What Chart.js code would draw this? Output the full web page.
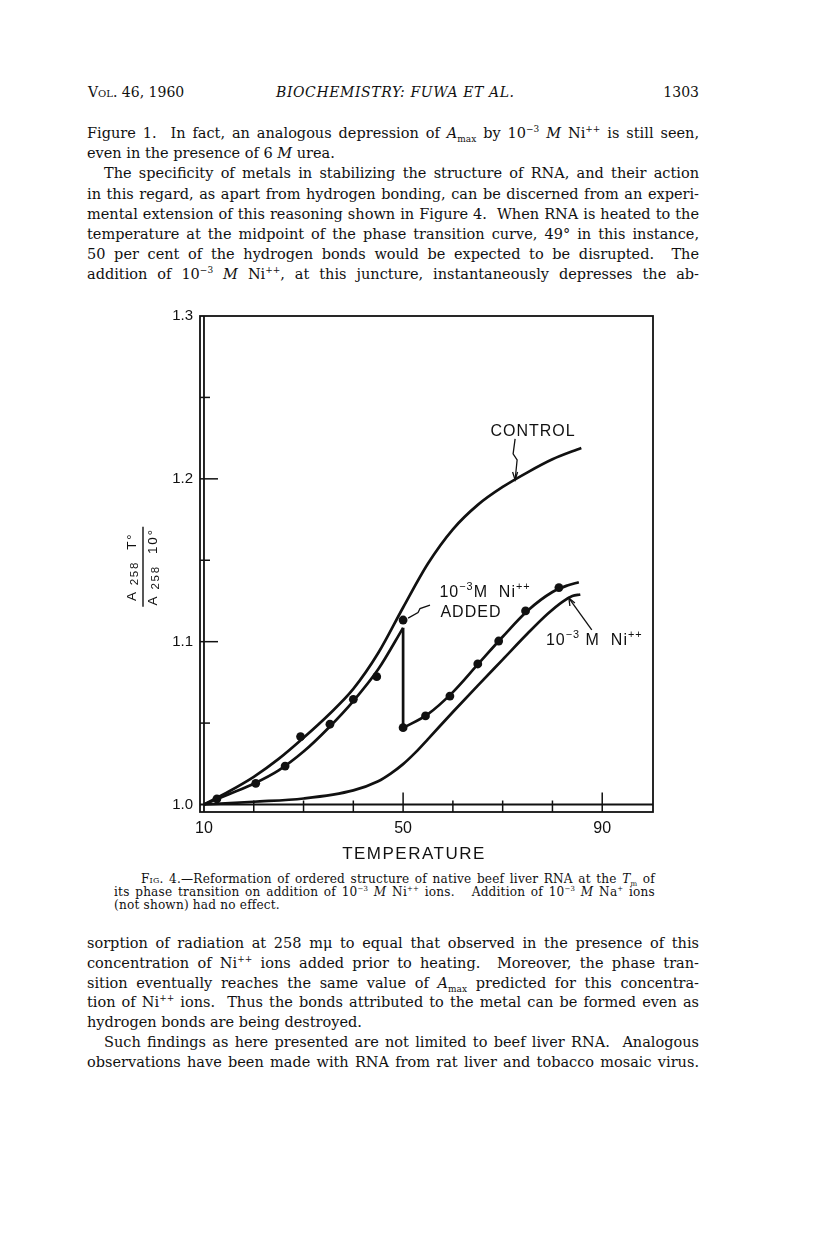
<!DOCTYPE html>
<html>
<head>
<meta charset="utf-8">
<title>Fig. 4 - Fuwa et al. 1960</title>
<script src="https://cdn.jsdelivr.net/npm/chart.js@4.4.1/dist/chart.umd.min.js"></script>
<style>
  body { margin: 0; background: #fff; }
  #page { position: relative; width: 816px; height: 1249px; overflow: hidden; color: #111;
          font-family: "DejaVu Serif", "Liberation Serif", serif; }
  .ln { position: absolute; left: 87px; width: 612px; font-size: 14.5px; line-height: 20px;
        white-space: nowrap; text-align: justify; text-align-last: justify; }
  .last { text-align-last: left; }
  .ind { padding-left: 17px; box-sizing: border-box; }
  .cap { font-size: 12.1px; line-height: 13px; left: 114px; width: 541px; letter-spacing: 0.2px; }
  .cap.ind { padding-left: 27px; }
  .cap sub, .cap sup { font-size: 0.58em; }
  sup, sub { font-size: 0.62em; line-height: 0; }
  .sc { font-variant: small-caps; }
  #hdr { position: absolute; top: 82px; left: 88px; width: 611px; font-size: 14px; line-height: 20px; }
  #hdr .mid { position: absolute; left: 188px; font-style: italic; letter-spacing: 0.6px; }
  #hdr .pg { position: absolute; right: 0; }
  #plot { position: absolute; left: 100px; top: 296px; width: 600px; height: 570px; }
  #xtitle { position: absolute; left: 300px; width: 228px; top: 844px; text-align: center;
            font: 17px "Liberation Sans", sans-serif; letter-spacing: 1.5px; color: #111; }
</style>
</head>
<body>
<div id="page">
  <div id="hdr"><span class="sc">Vol.</span> 46, 1960<span class="mid">BIOCHEMISTRY: FUWA ET AL.</span><span class="pg">1303</span></div>

  <div class="ln" style="top:123px">Figure 1. &nbsp;In fact, an analogous depression of <i>A</i><sub>max</sub> by 10<sup>−3</sup> <i>M</i> Ni<sup>++</sup> is still seen,</div>
  <div class="ln last" style="top:143.2px">even in the presence of 6 <i>M</i> urea.</div>
  <div class="ln ind" style="top:163.4px">The specificity of metals in stabilizing the structure of RNA, and their action</div>
  <div class="ln" style="top:183.6px">in this regard, as apart from hydrogen bonding, can be discerned from an experi-</div>
  <div class="ln" style="top:203.8px">mental extension of this reasoning shown in Figure 4. &nbsp;When RNA is heated to the</div>
  <div class="ln" style="top:224px">temperature at the midpoint of the phase transition curve, 49° in this instance,</div>
  <div class="ln" style="top:244.2px">50 per cent of the hydrogen bonds would be expected to be disrupted. &nbsp;The</div>
  <div class="ln" style="top:264.4px">addition of 10<sup>−3</sup> <i>M</i> Ni<sup>++</sup>, at this juncture, instantaneously depresses the ab-</div>

  <div id="plot"><canvas id="chart"></canvas></div>
  <div id="xtitle">TEMPERATURE</div>

  <div class="ln cap ind" style="top:872.5px">F<span class="sc">ig</span>. 4.—Reformation of ordered structure of native beef liver RNA at the <i>T</i><sub>m</sub> of</div>
  <div class="ln cap" style="top:885.5px">its phase transition on addition of 10<sup>−3</sup> <i>M</i> Ni<sup>++</sup> ions. &nbsp; Addition of 10<sup>−3</sup> <i>M</i> Na<sup>+</sup> ions</div>
  <div class="ln cap last" style="top:898.5px">(not shown) had no effect.</div>

  <div class="ln" style="top:933px">sorption of radiation at 258 mμ to equal that observed in the presence of this</div>
  <div class="ln" style="top:952.8px">concentration of Ni<sup>++</sup> ions added prior to heating. &nbsp;Moreover, the phase tran-</div>
  <div class="ln" style="top:972.6px">sition eventually reaches the same value of <i>A</i><sub>max</sub> predicted for this concentra-</div>
  <div class="ln" style="top:992.4px">tion of Ni<sup>++</sup> ions. &nbsp;Thus the bonds attributed to the metal can be formed even as</div>
  <div class="ln last" style="top:1012.2px">hydrogen bonds are being destroyed.</div>
  <div class="ln ind" style="top:1032px">Such findings as here presented are not limited to beef liver RNA. &nbsp;Analogous</div>
  <div class="ln" style="top:1051.8px">observations have been made with RNA from rat liver and tobacco mosaic virus.</div>
</div>

<script>
// A258 at T / A258 at 10°
const controlT = [10, 15, 20, 25, 30, 35, 40, 45, 50, 55, 60, 65, 70, 75, 80, 85.8];
const controlA = [1.0, 1.008, 1.017, 1.028, 1.041, 1.055, 1.071, 1.093, 1.121, 1.148, 1.169, 1.184, 1.195, 1.204, 1.212, 1.219];

// Ni++ added at 50°: curve up to the addition, then after it
const addedBeforeT = [10, 15, 20, 25, 30, 35, 40, 45, 50];
const addedBeforeA = [1.0, 1.0063, 1.0128, 1.021, 1.0325, 1.047, 1.0635, 1.083, 1.1085];
const addedAfterT = [50, 55, 60, 65, 70, 75, 80, 83, 85.3];
const addedAfterA = [1.047, 1.0555, 1.069, 1.086, 1.103, 1.119, 1.1305, 1.1345, 1.1365];

// Ni++ present before heating
const priorT = [10, 20, 30, 40, 45, 47.5, 50, 52.5, 55, 60, 65, 70, 75, 79, 82, 84, 85.6];
const priorA = [1.0, 1.0017, 1.0037, 1.0087, 1.0143, 1.019, 1.0248, 1.032, 1.0402, 1.0568, 1.073, 1.089, 1.105, 1.117, 1.1245, 1.128, 1.129];

// measured points
const pointT = [12.6, 20.4, 26.3, 29.4, 35.3, 40.0, 44.7, 50, 50, 54.5, 59.4, 65.0, 69.2, 74.6, 81.3];
const pointA = [1.0035, 1.013, 1.0236, 1.0417, 1.0493, 1.0646, 1.0785, 1.1133, 1.0472, 1.0544, 1.0666, 1.0863, 1.1004, 1.1189, 1.1332];

const xTicks = [10, 20, 30, 40, 50, 60, 70, 80, 90];
const xLabelled = [10, 50, 90];
const yTicks = [1.05, 1.1, 1.15, 1.2, 1.25];
const yLabelled = [1.0, 1.1, 1.2, 1.3];

const ink = '#111';
const sans = '"Liberation Sans", Arial, sans-serif';

function pts(xs, ys) {
  return xs.map((x, i) => ({ x: x, y: ys[i] }));
}

function curve(data, extra) {
  return Object.assign({
    data: data,
    showLine: true,
    borderColor: ink,
    borderWidth: 2.7,
    pointRadius: 0,
    cubicInterpolationMode: 'monotone',
    fill: false
  }, extra || {});
}

// text in runs: [text, 0 normal | 1 sup | -1 sub]
function drawRuns(ctx, runs, x, y, size, align, subScale) {
  const sc = subScale || 0.68;
  const widths = runs.map(r => {
    ctx.font = (r[1] ? size * sc : size) + 'px ' + sans;
    return ctx.measureText(r[0]).width;
  });
  const total = widths.reduce((s, w) => s + w, 0);
  let cx = align === 'center' ? x - total / 2 : x;
  runs.forEach((r, i) => {
    ctx.font = (r[1] ? size * sc : size) + 'px ' + sans;
    const dy = r[1] === 1 ? -size * 0.42 : r[1] === -1 ? size * 0.22 : 0;
    ctx.fillText(r[0], cx, y + dy);
    cx += widths[i];
  });
}

const frame = {
  id: 'frame',
  afterDatasetsDraw(chart) {
    const { ctx, chartArea: a, scales: { x, y } } = chart;
    const x0 = x.getPixelForValue(10);
    const y0 = y.getPixelForValue(1.0);
    ctx.save();
    ctx.strokeStyle = ink;
    ctx.lineWidth = 1.8;
    ctx.strokeRect(a.left, a.top, a.right - a.left, a.bottom - a.top);
    ctx.beginPath();
    ctx.moveTo(x0, a.top); ctx.lineTo(x0, a.bottom);
    ctx.moveTo(a.left, y0); ctx.lineTo(a.right, y0);
    ctx.stroke();

    ctx.lineWidth = 1.5;
    xTicks.forEach(t => {
      if (t === 10) return;
      const px = x.getPixelForValue(t);
      ctx.beginPath();
      ctx.moveTo(px, a.bottom);
      ctx.lineTo(px, y0 - (xLabelled.includes(t) ? 12 : 4));
      ctx.stroke();
    });
    yTicks.forEach(v => {
      const py = y.getPixelForValue(v);
      const major = Math.abs(v * 10 - Math.round(v * 10)) < 1e-6;
      ctx.beginPath();
      ctx.moveTo(a.left, py);
      ctx.lineTo(x0 + (major ? 14 : 6), py);
      ctx.stroke();
    });
    ctx.restore();
  }
};

const notes = {
  id: 'notes',
  afterDraw(chart) {
    const { ctx, chartArea: a, scales: { x, y } } = chart;
    const X = v => x.getPixelForValue(v);
    const Y = v => y.getPixelForValue(v);
    ctx.save();
    ctx.fillStyle = ink;
    ctx.strokeStyle = ink;
    ctx.textBaseline = 'alphabetic';
    ctx.letterSpacing = '1px';

    // CONTROL
    drawRuns(ctx, [['CONTROL', 0]], X(76.1), Y(1.2262), 16, 'center');
    const ax = X(72.5), ay = Y(1.2245);
    ctx.lineWidth = 1.3;
    ctx.beginPath();
    ctx.moveTo(ax, ay);
    ctx.lineTo(ax - 2, ay + 15);
    ctx.lineTo(ax + 2, ay + 21);
    ctx.lineTo(ax, ay + 41);
    ctx.stroke();
    ctx.beginPath();
    ctx.moveTo(ax - 2.5, ay + 33); ctx.lineTo(ax, ay + 41); ctx.lineTo(ax + 2.5, ay + 33);
    ctx.stroke();

    // 10-3 M Ni++ ADDED
    drawRuns(ctx, [['10', 0], ['−3', 1], ['M  N', 0], ['i', 0], ['++', 1]], X(57.3), Y(1.1273), 16, 'left');
    drawRuns(ctx, [['ADDED', 0]], X(57.5), Y(1.1154), 16, 'left');
    const sx = X(55.4), sy = Y(1.1225), ex = X(51.0), ey = Y(1.1145);
    ctx.beginPath();
    ctx.moveTo(sx, sy);
    ctx.lineTo((sx + ex) / 2 + 1, (sy + ey) / 2 - 3);
    ctx.lineTo((sx + ex) / 2 - 1, (sy + ey) / 2 + 1);
    ctx.lineTo(ex, ey);
    ctx.stroke();

    // 10-3 M Ni++ (prior)
    drawRuns(ctx, [['10', 0], ['−3', 1], [' M  N', 0], ['i', 0], ['++', 1]], X(78.7), Y(1.098), 16, 'left');
    const px1 = X(87.9), py1 = Y(1.1072), px2 = X(83.3), py2 = Y(1.1268);
    ctx.beginPath();
    ctx.moveTo(px1, py1);
    ctx.lineTo(px2, py2);
    ctx.stroke();
    ctx.beginPath();
    ctx.moveTo(px2 + 1, py2 + 8); ctx.lineTo(px2, py2); ctx.lineTo(px2 + 6, py2 + 5);
    ctx.stroke();

    // y axis title: A258 T° over A258 10°, rotated
    ctx.letterSpacing = '1.8px';
    ctx.translate(a.left - 68, Y(1.146));
    ctx.rotate(-Math.PI / 2);
    ctx.textBaseline = 'middle';
    drawRuns(ctx, [['A', 0], [' 258', -1], ['  T°', 0]], 0, 0, 13.5, 'center', 0.85);
    ctx.lineWidth = 1.4;
    ctx.beginPath();
    ctx.moveTo(-40, 11); ctx.lineTo(40, 11);
    ctx.stroke();
    drawRuns(ctx, [['A', 0], [' 258', -1], ['  10°', 0]], 0, 21, 13.5, 'center', 0.85);
    ctx.restore();
  }
};

new Chart(document.getElementById('chart'), {
  type: 'scatter',
  data: {
    datasets: [
      curve(pts(controlT, controlA)),
      curve(pts(addedBeforeT, addedBeforeA)),
      curve([{ x: addedBeforeT[addedBeforeT.length - 1], y: addedBeforeA[addedBeforeA.length - 1] },
             { x: addedAfterT[0], y: addedAfterA[0] }], { cubicInterpolationMode: 'default', tension: 0 }),
      curve(pts(addedAfterT, addedAfterA)),
      curve(pts(priorT, priorA)),
      {
        data: pts(pointT, pointA),
        showLine: false,
        pointRadius: 4.4,
        pointBackgroundColor: ink,
        pointBorderWidth: 0
      }
    ]
  },
  options: {
    responsive: true,
    maintainAspectRatio: false,
    devicePixelRatio: 1,
    animation: false,
    events: [],
    layout: { padding: { top: 20, right: 47, left: 0, bottom: 0 } },
    plugins: { legend: { display: false }, tooltip: { enabled: false } },
    scales: {
      x: {
        type: 'linear',
        min: 9.2,
        max: 100.2,
        grid: { display: false, drawTicks: false },
        border: { display: false },
        afterBuildTicks: s => { s.ticks = xLabelled.map(v => ({ value: v })); },
        afterFit: s => { s.height = 54; },
        ticks: { padding: 7, color: ink, font: { family: sans, size: 16 }, maxRotation: 0,
                 callback: v => String(v) }
      },
      y: {
        type: 'linear',
        min: 0.9954,
        max: 1.3,
        grid: { display: false, drawTicks: false },
        border: { display: false },
        afterBuildTicks: s => { s.ticks = yLabelled.map(v => ({ value: v })); },
        afterFit: s => { s.width = 100; },
        ticks: { padding: 7, color: ink, font: { family: sans, size: 15 },
                 callback: v => v.toFixed(1) }
      }
    }
  },
  plugins: [frame, notes]
});
</script>
</body>
</html>
